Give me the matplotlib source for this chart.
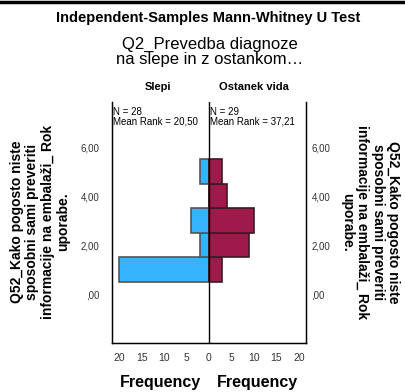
import matplotlib
matplotlib.use("Agg")
from matplotlib import pyplot as plt

plt.rcParams['font.family'] = ['Liberation Sans', 'DejaVu Sans']

# data
bins = [1, 2, 3, 4, 5]
slepi = [20, 2, 4, 0, 2]
ostanek = [3, 9, 10, 4, 3]
yticks = [0, 2, 4, 6]
ytick_labels = [',00', '2,00', '4,00', '6,00']
xticks = [-20, -15, -10, -5, 0, 5, 10, 15, 20]
groups = ['Slepi', 'Ostanek vida']
n_vals = [28, 29]
mean_ranks = ['20,50', '37,21']
ylabel = 'Q52_Kako pogosto niste\nsposobni sami preveriti\ninformacije na embalaži_ Rok\nuporabe.'

fig = plt.figure(figsize=(4.05, 3.92), dpi=100)
ax = fig.add_axes([0.2765, 0.125, 0.479, 0.615])

ax.barh(bins, [-v for v in slepi], height=1.0, color='#35B3FF', edgecolor='#555555', linewidth=1.2)
ax.barh(bins, ostanek, height=1.0, color='#A0194B', edgecolor='#3a1a24', linewidth=1.2)
ax.axvline(0, color='black', linewidth=1)

ax.set_xlim(-21.6, 21.6)
ax.set_ylim(-2.0, 7.85)
ax.set_xticks(xticks)
ax.set_xticklabels([str(abs(t)) for t in xticks], fontsize=7.5, color='#333333')
ax.set_yticks(yticks)
ax.set_yticklabels(ytick_labels, fontsize=7, color='#333333')
ax.tick_params(axis='both', length=0)
ax.tick_params(axis='y', pad=9)
ax.tick_params(axis='x', pad=7)
ax.spines['top'].set_visible(False)
for s in ['left', 'right', 'bottom']:
    ax.spines[s].set_linewidth(1)

ax2 = ax.twinx()
ax2.set_ylim(ax.get_ylim())
ax2.set_yticks(yticks)
ax2.set_yticklabels(ytick_labels, fontsize=7, color='#333333')
ax2.tick_params(axis='y', length=0, pad=4)
ax2.spines['top'].set_visible(False)

# group annotations
ax.text(-21.4, 7.65, 'N = %d\nMean Rank = %s' % (n_vals[0], mean_ranks[0]),
        fontsize=7, va='top', ha='left', linespacing=1.0)
ax.text(0.3, 7.65, 'N = %d\nMean Rank = %s' % (n_vals[1], mean_ranks[1]),
        fontsize=7, va='top', ha='left', linespacing=1.0)

fig.text(158/405, 1 - 87/392, groups[0], fontsize=8, fontweight='bold', ha='center', va='center')
fig.text(254/405, 1 - 87/392, groups[1], fontsize=8, fontweight='bold', ha='center', va='center')

fig.text(208/405, 1 - 18/392, 'Independent-Samples Mann-Whitney U Test', fontsize=10.5,
         fontweight='bold', ha='center', va='center')
fig.text(210/405, 1 - 52/392, 'Q2_Prevedba diagnoze\nna slepe in z ostankom…', fontsize=12,
         ha='center', va='center', linespacing=0.95)

fig.text(160/405, 1 - 383/392, 'Frequency', fontsize=11.5, fontweight='bold', ha='center', va='center')
fig.text(257/405, 1 - 383/392, 'Frequency', fontsize=11.5, fontweight='bold', ha='center', va='center')

fig.text(40/405, 1 - 222/392, ylabel, fontsize=10, fontweight='bold', rotation=90,
         ha='center', va='center', multialignment='center', linespacing=1.1)
fig.text(370/405, 1 - 222/392, ylabel, fontsize=10, fontweight='bold', rotation=270,
         ha='center', va='center', multialignment='center', linespacing=1.1)

# top border line
fig.add_artist(plt.Line2D([0, 1], [0.996, 0.996], color='black', linewidth=2.5,
                          transform=fig.transFigure))

fig.savefig('out.png', dpi=100)
